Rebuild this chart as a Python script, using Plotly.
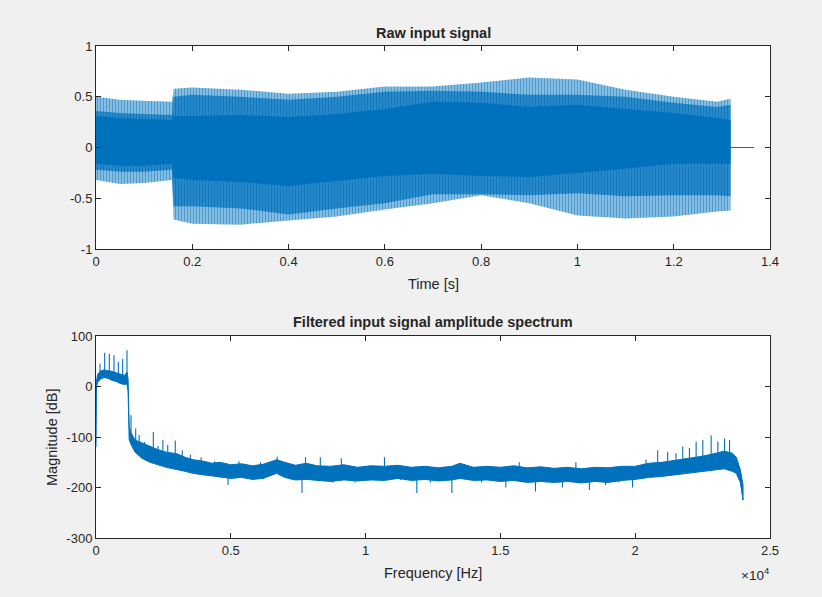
import plotly.graph_objects as go

# ---------------- Raw input signal (envelopes) ----------------
t_env = [0.0, 0.05, 0.10, 0.158, 0.161, 0.2, 0.3, 0.4, 0.5, 0.6, 0.7, 0.8, 0.9, 1.0, 1.1, 1.2, 1.29, 1.318]
outer_top = [0.50, 0.47, 0.46, 0.45, 0.58, 0.59, 0.57, 0.53, 0.55, 0.60, 0.60, 0.64, 0.69, 0.67, 0.57, 0.50, 0.45, 0.48]
mid_top = [0.36, 0.34, 0.33, 0.32, 0.50, 0.52, 0.50, 0.47, 0.50, 0.55, 0.56, 0.55, 0.52, 0.52, 0.50, 0.44, 0.40, 0.42]
core_top = [0.31, 0.29, 0.28, 0.27, 0.31, 0.31, 0.32, 0.30, 0.33, 0.38, 0.45, 0.44, 0.40, 0.42, 0.38, 0.34, 0.29, 0.27]
core_bot = [-0.16, -0.18, -0.18, -0.16, -0.30, -0.32, -0.34, -0.38, -0.33, -0.28, -0.26, -0.28, -0.29, -0.25, -0.21, -0.16, -0.16, -0.16]
mid_bot = [-0.22, -0.24, -0.24, -0.22, -0.58, -0.58, -0.60, -0.66, -0.60, -0.55, -0.46, -0.46, -0.47, -0.45, -0.48, -0.47, -0.47, -0.48]
outer_bot = [-0.32, -0.36, -0.35, -0.32, -0.71, -0.75, -0.76, -0.72, -0.68, -0.61, -0.55, -0.47, -0.55, -0.67, -0.70, -0.68, -0.63, -0.62]
tail_t = [1.318, 1.367]
tail_v = [0.0, 0.0]

# ---------------- Spectrum (band envelopes + spikes) ----------------
freq_env = [0, 20, 60, 150, 300, 450, 600, 750, 900, 1050, 1150, 1190, 1230, 1300, 1450, 1700, 2000,
            2300, 2600, 3000, 3300, 3600, 4000, 4300, 4600, 5000, 5400, 5800, 6200, 6700, 7000, 7400,
            7800, 8200, 8700, 9200, 9700, 10200, 10700, 11200, 11700, 12200, 12700, 13200, 13500,
            14000, 14500, 15000, 15500, 16000, 16500, 17000, 17500, 18000, 18500, 19000, 19500,
            20000, 20500, 21000, 21500, 22000, 22500, 23000, 23300, 23600, 23750, 23900, 24000]
mag_upper = [5, 15, 24, 30, 33, 31, 30, 27, 25, 22, 28, 15, -80, -92, -106, -112, -118,
             -125, -130, -133, -140, -145, -148, -152, -150, -155, -153, -157, -154, -145, -150, -156,
             -152, -157, -158, -155, -160, -157, -158, -156, -160, -158, -161, -158, -152,
             -160, -158, -160, -157, -161, -159, -162, -160, -163, -160, -161, -158,
             -158, -152, -150, -146, -142, -138, -132, -128, -132, -140, -165, -195]
mag_lower = [-120, 0, 8, 14, 18, 16, 12, 10, 6, 4, 5, -10, -105, -115, -130, -142, -150,
             -155, -160, -165, -168, -172, -175, -177, -180, -182, -180, -184, -182, -172, -180, -185,
             -184, -186, -188, -185, -187, -185, -186, -182, -186, -184, -187, -185, -182,
             -186, -185, -188, -186, -190, -188, -190, -188, -191, -188, -190, -186,
             -184, -180, -178, -175, -172, -168, -165, -163, -168, -172, -190, -225]
spike_f = [148, 322, 494, 668, 828, 989, 1150, 1298, 1472, 1600, 1800, 2126, 2300, 2480, 2660, 2940,
           3200, 3500, 3900, 4400, 4900, 5300, 6100, 6720, 7250, 7640, 7770, 8320, 8800, 9100, 9600,
           10700, 11300, 11900, 12400, 13200, 13510, 14300, 15200, 15700, 16300, 16700, 17300,
           17800, 18300, 18900, 19400, 19900, 20400,
           20833, 21205, 21515, 21763, 22012, 22260, 22508, 22818, 23066, 23315, 23500]
spike_lo = [25, 28, 28, 25, 22, 18, 20, -110, -120, -125, -140, -130, -145, -140, -145, -150,
            -155, -150, -160, -160, -195, -160, -165, -160, -185, -211, -165, -165, -190, -165, -190,
            -165, -185, -211, -190, -211, -160, -190, -200, -165, -208, -190, -200,
            -165, -205, -195, -190, -200, -165,
            -150, -152, -152, -148, -148, -145, -145, -140, -140, -140, -140]
spike_hi = [45, 67, 65, 62, 49, 55, 72, -57, -83, -96, -110, -90, -118, -106, -116, -107,
            -126, -135, -140, -148, -175, -148, -150, -139, -172, -180, -140, -140, -172, -142, -175,
            -140, -172, -185, -175, -185, -155, -175, -185, -150, -185, -175, -185,
            -150, -185, -178, -175, -183, -145,
            -126, -129, -132, -119, -122, -109, -106, -97, -109, -103, -106]

x1_ticks = [0, 0.2, 0.4, 0.6, 0.8, 1.0, 1.2, 1.4]
x1_labels = ["0", "0.2", "0.4", "0.6", "0.8", "1", "1.2", "1.4"]
y1_ticks = [-1, -0.5, 0, 0.5, 1]
y1_labels = ["-1", "-0.5", "0", "0.5", "1"]
x2_ticks = [0, 5000, 10000, 15000, 20000, 25000]
x2_labels = ["0", "0.5", "1", "1.5", "2", "2.5"]
y2_ticks = [-300, -200, -100, 0, 100]
y2_labels = ["-300", "-200", "-100", "0", "100"]

BLUE = "#0072BD"
AX = "#262626"
FONT = "Liberation Sans, Arial, Helvetica, sans-serif"

fig = go.Figure()

def band(x, top, bot):
    return list(x) + list(x)[::-1], list(top) + list(bot)[::-1]

# outer striped band
bx, by = band(t_env, outer_top, outer_bot)
fig.add_trace(go.Scatter(x=bx, y=by, fill="toself", mode="none", xaxis="x", yaxis="y",
                         fillcolor="rgba(0,114,189,0.45)",
                         fillpattern=dict(shape="|", size=3, solidity=0.45, fgcolor=BLUE,
                                          bgcolor="rgba(0,114,189,0.42)"),
                         hoverinfo="skip", showlegend=False))
# mid striped band
bx, by = band(t_env, mid_top, mid_bot)
fig.add_trace(go.Scatter(x=bx, y=by, fill="toself", mode="none", xaxis="x", yaxis="y",
                         fillcolor="rgba(0,114,189,0.8)",
                         fillpattern=dict(shape="|", size=3, solidity=0.65, fgcolor=BLUE,
                                          bgcolor="rgba(0,114,189,0.6)"),
                         hoverinfo="skip", showlegend=False))
# solid core
bx, by = band(t_env, core_top, core_bot)
fig.add_trace(go.Scatter(x=bx, y=by, fill="toself", mode="none", xaxis="x", yaxis="y",
                         fillcolor=BLUE, hoverinfo="skip", showlegend=False))
fig.add_trace(go.Scatter(x=tail_t, y=tail_v, mode="lines", line=dict(color=BLUE, width=1),
                         xaxis="x", yaxis="y", hoverinfo="skip", showlegend=False))

# spectrum band
bx, by = band(freq_env, mag_upper, mag_lower)
fig.add_trace(go.Scatter(x=bx, y=by, fill="toself", mode="lines", line=dict(color=BLUE, width=1),
                         fillcolor=BLUE, xaxis="x2", yaxis="y2", hoverinfo="skip", showlegend=False))
sx, sy = [], []
for f, lo, hi in zip(spike_f, spike_lo, spike_hi):
    sx += [f, f, None]
    sy += [lo, hi, None]
fig.add_trace(go.Scatter(x=sx, y=sy, mode="lines", line=dict(color=BLUE, width=1.1),
                         xaxis="x2", yaxis="y2", hoverinfo="skip", showlegend=False))

axis_common = dict(showline=True, linecolor=AX, linewidth=1, mirror="ticks", ticks="inside",
                   ticklen=5, tickcolor=AX, tickwidth=1, showgrid=False, zeroline=False,
                   automargin=False,
                   tickfont=dict(family=FONT, size=13, color=AX))

fig.update_layout(
    width=822, height=597,
    paper_bgcolor="#f0f0f0", plot_bgcolor="white",
    margin=dict(l=96, r=52, t=46, b=59),
    font=dict(family=FONT, color=AX),
    xaxis=dict(domain=[0, 1], range=[0, 1.4], tickvals=x1_ticks, ticktext=x1_labels,
               anchor="y", **axis_common),
    yaxis=dict(domain=[289 / 492, 1], range=[-1, 1], tickvals=y1_ticks, ticktext=y1_labels,
               anchor="x", **axis_common),
    xaxis2=dict(domain=[0, 1], range=[0, 25000], tickvals=x2_ticks, ticktext=x2_labels,
                anchor="y2", **axis_common),
    yaxis2=dict(domain=[0, 202 / 492], range=[-300, 100], tickvals=y2_ticks, ticktext=y2_labels,
                anchor="x2", **axis_common),
)

def py(p):
    return (538 - p) / 492

ann = [
    dict(text="<b>Raw input signal</b>", x=0.5, y=py(33), size=14.5),
    dict(text="Time [s]", x=0.5, y=py(284), size=14.5),
    dict(text="<b>Filtered input signal amplitude spectrum</b>", x=0.5, y=py(322), size=14.5),
    dict(text="Frequency [Hz]", x=0.5, y=py(573), size=14.5),
]
for a in ann:
    fig.add_annotation(text=a["text"], x=a["x"], y=a["y"], xref="paper", yref="paper",
                       showarrow=False, xanchor="center", yanchor="middle",
                       font=dict(family=FONT, size=a["size"], color=AX))
fig.add_annotation(text="Magnitude [dB]", x=(52 - 96) / 674, y=py(437), xref="paper", yref="paper",
                   showarrow=False, textangle=-90, xanchor="center", yanchor="middle",
                   font=dict(family=FONT, size=14.5, color=AX))
fig.add_annotation(text="×10<sup>4</sup>", x=(771 - 96) / 674, y=py(574), xref="paper", yref="paper",
                   showarrow=False, xanchor="right", yanchor="middle",
                   font=dict(family=FONT, size=13.5, color=AX))

fig.write_html("out.html", config={"displayModeBar": False},
               post_script="document.body.style.margin='0';document.body.style.background='#f0f0f0';")
